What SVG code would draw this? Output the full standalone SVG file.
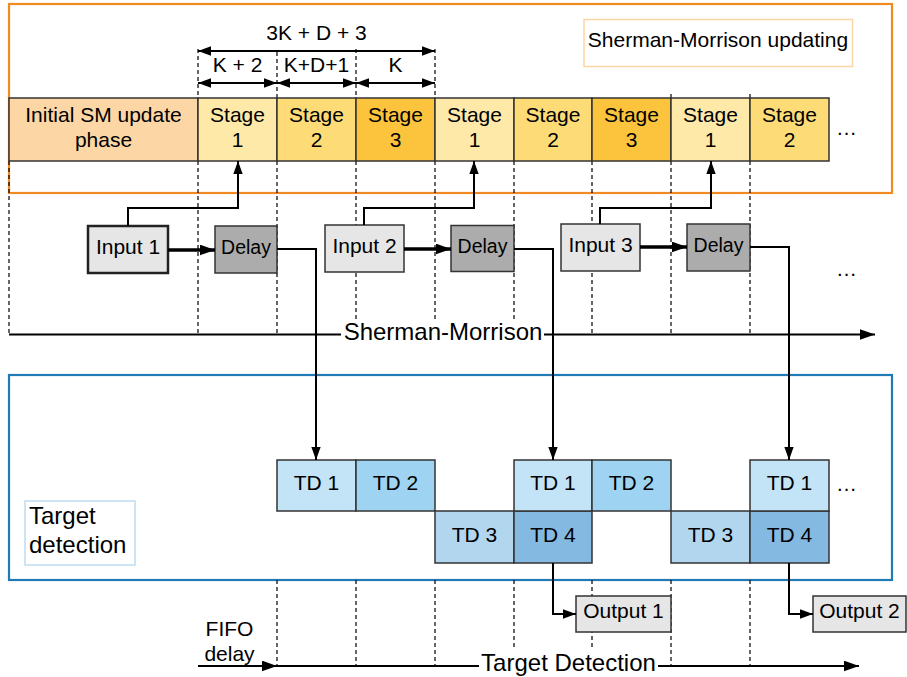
<svg xmlns="http://www.w3.org/2000/svg" width="907" height="677" viewBox="0 0 907 677">
<defs>
<style>
text{font-family:"Liberation Sans",Arial,sans-serif;fill:#000}
.t20{font-size:21px}
.t19{font-size:19.5px}
.t24{font-size:24px}
.c{text-anchor:middle}
.cell{stroke:#333;stroke-width:1.5}
.dash{stroke:#000;stroke-width:1.2;stroke-dasharray:4,3;fill:none}
.ln{stroke:#000;stroke-width:2;fill:none}
.thick{stroke:#000;stroke-width:3.5;fill:none}
.s1{fill:#fee9a9}.s2{fill:#fddc78}.s3{fill:#fcc43c}
.td1{fill:#c3e3f6}.td2{fill:#9ed3f2}.td3{fill:#b3d6ef}.td4{fill:#84b9e2}
.inp{fill:#e6e6e6;stroke:#333;stroke-width:1.5}
.dly{fill:#acacac;stroke:#333;stroke-width:1.5}
</style>
<marker id="ah" viewBox="0 0 14 10" refX="14" refY="5" markerWidth="15" markerHeight="11" markerUnits="userSpaceOnUse" orient="auto-start-reverse"><path d="M0,0 L14,5 L0,10 z" fill="#000"/></marker>
<marker id="ahs" viewBox="0 0 14 10" refX="14" refY="5" markerWidth="13" markerHeight="10" markerUnits="userSpaceOnUse" orient="auto-start-reverse"><path d="M0,0 L14,5 L0,10 z" fill="#000"/></marker>
</defs>
<rect width="907" height="677" fill="#fff"/>

<!-- frames -->
<g id="sm-frame">
<rect x="9" y="4" width="883" height="189" fill="none" stroke="#ef8b22" stroke-width="2.2"/>
<rect x="584" y="19.5" width="268.5" height="47" fill="#fff" stroke="#fdd5a5" stroke-width="1.5"/>
<text class="t20 c" x="718" y="47">Sherman-Morrison updating</text>
</g>
<g id="td-frame">
<rect x="9" y="375" width="883" height="205" fill="none" stroke="#1f7ab6" stroke-width="2.2"/>
<rect x="25" y="501" width="110" height="64" fill="#fff" stroke="#bcdcf2" stroke-width="1.5"/>
<text class="t24" x="29" y="524">Target</text>
<text class="t24" x="29" y="553">detection</text>
</g>

<!-- dashed guides -->
<g id="guides">
<path class="dash" d="M198,49V98 M277,52V98 M356,49V98 M435,49V98 M671,94V98 M750,94V98"/>
<path class="dash" d="M9,161V334 M198,161V334 M277,161V334 M356,161V334 M435,161V334 M514,161V334 M592,161V334 M671,161V334 M750,161V334"/>
<path class="dash" d="M277,580V666 M356,580V666 M435,580V666 M514,580V666 M592,580V666 M671,580V666 M750,580V666"/>
</g>

<!-- stage row -->
<g id="stage-row">
<rect class="cell" x="9" y="98" width="189" height="63" fill="#fdd6a6"/>
<text class="t20 c" x="103.5" y="122">Initial SM update</text>
<text class="t20 c" x="103.5" y="147">phase</text>
<g id="stage-a1"><rect class="cell s1" x="198" y="98" width="79" height="63"/><text class="t20 c" x="237.5" y="122">Stage</text><text class="t20 c" x="237.5" y="147">1</text></g>
<g id="stage-a2"><rect class="cell s2" x="277" y="98" width="79" height="63"/><text class="t20 c" x="316.5" y="122">Stage</text><text class="t20 c" x="316.5" y="147">2</text></g>
<g id="stage-a3"><rect class="cell s3" x="356" y="98" width="79" height="63"/><text class="t20 c" x="395.5" y="122">Stage</text><text class="t20 c" x="395.5" y="147">3</text></g>
<g id="stage-b1"><rect class="cell s1" x="435" y="98" width="79" height="63"/><text class="t20 c" x="474.5" y="122">Stage</text><text class="t20 c" x="474.5" y="147">1</text></g>
<g id="stage-b2"><rect class="cell s2" x="514" y="98" width="78" height="63"/><text class="t20 c" x="553" y="122">Stage</text><text class="t20 c" x="553" y="147">2</text></g>
<g id="stage-b3"><rect class="cell s3" x="592" y="98" width="79" height="63"/><text class="t20 c" x="631.5" y="122">Stage</text><text class="t20 c" x="631.5" y="147">3</text></g>
<g id="stage-c1"><rect class="cell s1" x="671" y="98" width="79" height="63"/><text class="t20 c" x="710.5" y="122">Stage</text><text class="t20 c" x="710.5" y="147">1</text></g>
<g id="stage-c2"><rect class="cell s2" x="750" y="98" width="79" height="63"/><text class="t20 c" x="789.5" y="122">Stage</text><text class="t20 c" x="789.5" y="147">2</text></g>
<text class="t20" x="836" y="135">…</text>
</g>

<!-- dimension labels -->
<g id="dims">
<path class="ln" stroke-width="1.6" d="M198,51H435" marker-start="url(#ahs)" marker-end="url(#ahs)"/>
<path class="ln" stroke-width="1.6" d="M198,83H277" marker-start="url(#ahs)" marker-end="url(#ahs)"/>
<path class="ln" stroke-width="1.6" d="M277,83H356" marker-start="url(#ahs)" marker-end="url(#ahs)"/>
<path class="ln" stroke-width="1.6" d="M356,83H435" marker-start="url(#ahs)" marker-end="url(#ahs)"/>
<text class="t20 c" x="316.5" y="40">3K + D + 3</text>
<text class="t20 c" x="237.5" y="72">K + 2</text>
<text class="t20 c" x="316.5" y="72">K+D+1</text>
<text class="t20 c" x="395.5" y="72">K</text>
</g>

<!-- inputs and delays -->
<g id="input1"><rect x="88" y="226" width="80" height="47" fill="#e6e6e6" stroke="#222" stroke-width="2.5"/><text class="t20 c" x="128" y="254">Input 1</text></g>
<g id="delay1"><rect class="dly" x="215" y="226" width="62" height="47"/><text class="t19 c" x="246" y="254">Delay</text></g>
<g id="input2"><rect class="inp" x="325" y="225" width="79" height="47" fill="#ebebeb"/><text class="t20 c" x="364.5" y="253">Input 2</text></g>
<g id="delay2"><rect class="dly" x="451" y="225.5" width="63" height="46"/><text class="t19 c" x="482.5" y="253">Delay</text></g>
<g id="input3"><rect class="inp" x="561" y="224" width="79" height="47"/><text class="t20 c" x="600.5" y="252">Input 3</text></g>
<g id="delay3"><rect class="dly" x="687" y="224" width="63" height="47"/><text class="t19 c" x="718.5" y="252">Delay</text></g>
<text class="t20" x="836" y="276">…</text>

<!-- TD blocks -->
<g id="td-a1"><rect class="cell td1" x="277" y="460" width="79" height="51"/><text class="t20 c" x="316.5" y="490">TD 1</text></g>
<g id="td-a2"><rect class="cell td2" x="356" y="460" width="79" height="51"/><text class="t20 c" x="395.5" y="490">TD 2</text></g>
<g id="td-a3"><rect class="cell td3" x="435" y="511" width="79" height="52"/><text class="t20 c" x="474.5" y="542">TD 3</text></g>
<g id="td-a4"><rect class="cell td4" x="514" y="511" width="78" height="52"/><text class="t20 c" x="553" y="542">TD 4</text></g>
<g id="td-b1"><rect class="cell td1" x="514" y="460" width="78" height="51"/><text class="t20 c" x="553" y="490">TD 1</text></g>
<g id="td-b2"><rect class="cell td2" x="592" y="460" width="79" height="51"/><text class="t20 c" x="631.5" y="490">TD 2</text></g>
<g id="td-b3"><rect class="cell td3" x="671" y="511" width="79" height="52"/><text class="t20 c" x="710.5" y="542">TD 3</text></g>
<g id="td-b4"><rect class="cell td4" x="750" y="511" width="79" height="52"/><text class="t20 c" x="789.5" y="542">TD 4</text></g>
<g id="td-c1"><rect class="cell td1" x="750" y="460" width="79" height="51"/><text class="t20 c" x="789.5" y="490">TD 1</text></g>
<text class="t20" x="836" y="491">…</text>

<!-- outputs -->
<g id="output1"><rect class="inp" x="576" y="596" width="95" height="36"/><text class="t20 c" x="623.5" y="618">Output 1</text></g>
<g id="output2"><rect class="inp" x="813" y="596" width="93" height="36"/><text class="t20 c" x="859.5" y="618">Output 2</text></g>

<!-- connectors -->
<g id="connectors">
<path class="ln" d="M128,226V208H238V161" marker-end="url(#ahs)"/>
<path class="ln" d="M364,225V208H474V161" marker-end="url(#ahs)"/>
<path class="ln" d="M600,224V208H711V161" marker-end="url(#ahs)"/>
<path class="thick" d="M168,250H215" marker-end="url(#ah)"/>
<path class="thick" d="M404,249H451" marker-end="url(#ah)"/>
<path class="thick" d="M640,247H687" marker-end="url(#ah)"/>
<path class="ln" d="M277,249H316V460" marker-end="url(#ahs)"/>
<path class="ln" d="M514,249H553V460" marker-end="url(#ahs)"/>
<path class="ln" d="M750,247H789V460" marker-end="url(#ahs)"/>
<path class="ln" d="M553,563V614H576" marker-end="url(#ahs)"/>
<path class="ln" d="M789,563V614H813" marker-end="url(#ahs)"/>
</g>

<!-- axes -->
<g id="sm-axis">
<path class="ln" d="M9,334.5H875" marker-end="url(#ah)"/>
<rect x="341" y="320" width="203" height="26" fill="#fff"/>
<text class="t24 c" x="443" y="340">Sherman-Morrison</text>
</g>
<g id="td-axis">
<path class="ln" d="M198,666H277" marker-end="url(#ah)"/>
<path class="ln" d="M277,666H859" marker-end="url(#ah)"/>
<rect x="479" y="648" width="179" height="28" fill="#fff"/>
<text class="t24 c" x="568.5" y="671">Target Detection</text>
<text class="t20 c" x="229.5" y="636">FIFO</text>
<text class="t20 c" x="229.5" y="661">delay</text>
</g>
</svg>
